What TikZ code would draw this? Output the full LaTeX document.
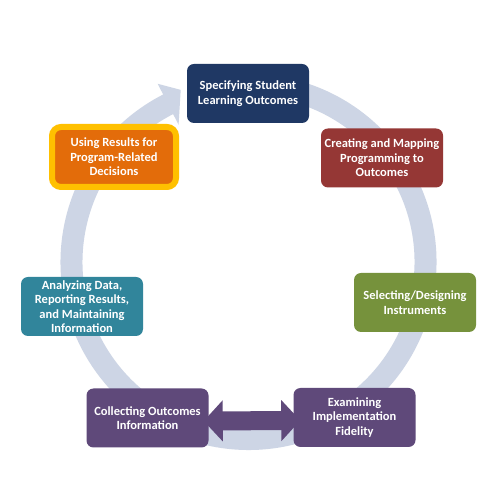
\documentclass[tikz,border=0pt]{standalone}
\usepackage{fontspec}
\setmainfont{Carlito}
\usetikzlibrary{arrows.meta}
\definecolor{ringc}{RGB}{205,213,229}
\definecolor{navyc}{RGB}{31,56,100}
\definecolor{redc}{RGB}{149,55,53}
\definecolor{greenc}{RGB}{118,146,60}
\definecolor{purplec}{RGB}{95,73,122}
\definecolor{tealc}{RGB}{49,133,155}
\definecolor{orangec}{RGB}{227,108,10}
\definecolor{yellowc}{RGB}{255,192,0}
\begin{document}
\begin{tikzpicture}[x=1pt,y=1pt,
  box/.style={rounded corners=7pt, minimum width=122pt, minimum height=59pt,
    inner sep=0pt, align=center, text=white,
    font=\fontsize{12.5}{14.5}\selectfont\bfseries},
  ring/.style={ringc, line width=22pt},
  link/.style={purplec, line width=19pt,
    {Triangle[width=40pt,length=19pt]}-{Triangle[width=40pt,length=19pt]}}
]
\fill[white] (0,0) rectangle (500,500);
\useasboundingbox (0,0) rectangle (500,500);
% cycle ring
\coordinate (ctr) at (248.5,238);
\draw[ring] ([shift={(80:177)}]ctr) arc[start angle=80, end angle=-243.5, radius=177];
\fill[ringc] ([shift={(117:200)}]ctr) -- ([shift={(111.5:185)}]ctr) -- ([shift={(117:154)}]ctr) -- cycle;
% boxes
\node[box, fill=navyc] (spec) at (248,406.5) {Specifying Student\\Learning Outcomes};
\node[box, fill=redc] (create) at (382,342) {Creating and Mapping\\Programming to\\Outcomes};
\node[box, fill=greenc] (select) at (415,197.5) {Selecting/Designing\\Instruments};
\node[box, fill=purplec] (exam) at (354.5,82.5) {Examining\\Implementation\\Fidelity};
\node[box, fill=purplec] (collect) at (147.5,82) {Collecting Outcomes\\Information};
\node[box, fill=tealc] (analyze) at (82,193.5) {Analyzing Data,\\Reporting Results,\\and Maintaining\\Information};
\node[box, fill=orangec, draw=yellowc, line width=6pt, rounded corners=9pt,
  minimum width=124pt, minimum height=60pt] (using) at (114,343)
  {Using Results for\\Program-Related\\Decisions};
% double arrow
\draw[link, shorten <=-5pt, shorten >=-7pt] ([yshift=-3pt]collect.east) -- ([yshift=-3pt]exam.west);
\end{tikzpicture}
\end{document}
